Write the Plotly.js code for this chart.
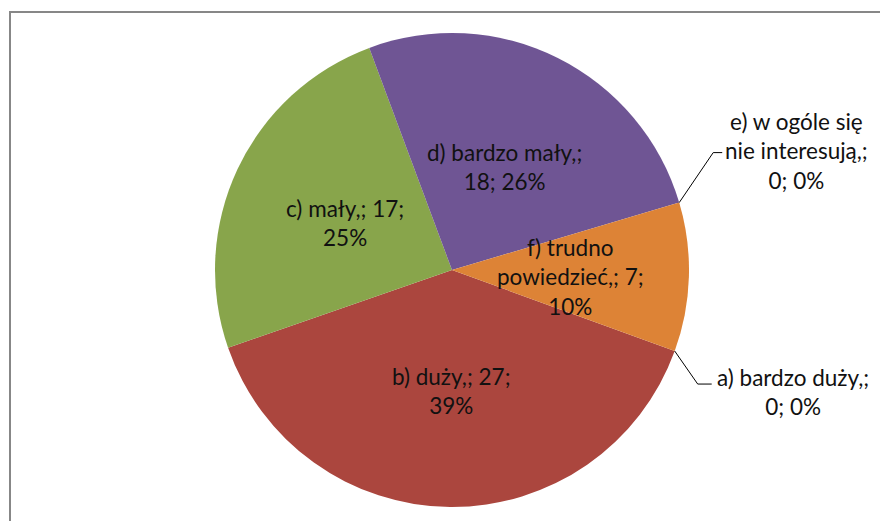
<!DOCTYPE html>
<html>
<head>
<meta charset="utf-8">
<script src="https://cdn.plot.ly/plotly-3.0.1.min.js"></script>
<style>html,body{margin:0;padding:0;background:#fff;}#chart{width:880px;height:521px;}</style>
</head>
<body>
<div id="chart"></div>
<script>
// ---- data ----
const categories = ['a) bardzo duży,', 'b) duży,', 'c) mały,', 'd) bardzo mały,', 'e) w ogóle się nie interesują,', 'f) trudno powiedzieć,'];
const values = [0, 27, 17, 18, 0, 7];
// label text as wrapped in the original chart
const labelTexts = [
  'a) bardzo duży,;<br>0; 0%',
  'b) duży,; 27;<br>39%',
  'c) mały,; 17;<br>25%',
  'd) bardzo mały,;<br>18; 26%',
  'e) w ogóle się<br>nie interesują,;<br>0; 0%',
  'f) trudno<br>powiedzieć,; 7;<br>10%'
];
const colors = ['#4F81BD', '#AB463E', '#88A54B', '#6F5594', '#4BACC6', '#DD8336'];

// ---- layout geometry ----
const W = 880, H = 521;
const CX = 452, CY = 270, R = 237;
const ROT = 110;
const total = values.reduce((a, b) => a + b, 0);

function toPaper(px, py) { return [px / W, 1 - py / H]; }
function pointAt(angDeg, r) {
  const a = angDeg * Math.PI / 180;
  return [CX + r * Math.sin(a), CY - r * Math.cos(a)];
}

const annotations = [];
const shapes = [];
const font = {family: 'Lato, "Open Sans", sans-serif', size: 22.5, color: '#111'};

let cum = 0;
values.forEach((v, i) => {
  const a0 = ROT + cum / total * 360;
  const a1 = ROT + (cum + v) / total * 360;
  cum += v;
  if (v > 0) {
    const [px, py] = pointAt((a0 + a1) / 2, R * 0.5);
    const [x, y] = toPaper(px, py + 3);
    annotations.push({x, y, xref: 'paper', yref: 'paper', text: labelTexts[i], showarrow: false, font, align: 'center', xanchor: 'center', yanchor: 'middle'});
  }
});

// zero slices: leader lines from slice edge
function zeroLabel(idx, elbowDx, elbowDy, tail, textDx, textDy) {
  let c = 0;
  for (let k = 0; k < idx; k++) c += values[k];
  const ang = ROT + c / total * 360;
  const [sx, sy] = pointAt(ang, R);
  const ex = sx + elbowDx, ey = sy + elbowDy;
  const tx = ex + tail;
  const p = [toPaper(sx, sy), toPaper(ex, ey), toPaper(tx, ey)];
  shapes.push({type: 'path', xref: 'paper', yref: 'paper',
    path: `M${p[0][0]},${p[0][1]} L${p[1][0]},${p[1][1]} L${p[2][0]},${p[2][1]}`,
    line: {color: '#000', width: 1}});
  const [ax, ay] = toPaper(tx + textDx, ey + textDy);
  annotations.push({x: ax, y: ay, xref: 'paper', yref: 'paper', text: labelTexts[idx], showarrow: false, font, align: 'center', xanchor: 'center', yanchor: 'middle'});
}
zeroLabel(4, 34, -50, 9, 74, -2);
zeroLabel(0, 23, 33, 14, 81, 8);

// chart border
shapes.push({type: 'rect', xref: 'paper', yref: 'paper', x0: 10 / W, x1: 1 + 20 / W, y0: -20 / H, y1: 1 - 12 / H,
  line: {color: '#878787', width: 2}, fillcolor: 'rgba(0,0,0,0)', layer: 'below'});

const trace = {
  type: 'pie',
  labels: categories,
  values: values,
  sort: false,
  direction: 'clockwise',
  rotation: ROT,
  textinfo: 'none',
  hoverinfo: 'label+value+percent',
  marker: {colors: colors, line: {width: 0}},
  domain: {x: [(CX - R) / W, (CX + R) / W], y: [1 - (CY + R) / H, 1 - (CY - R) / H]},
  showlegend: false
};

Plotly.newPlot('chart', [trace], {
  width: W, height: H,
  margin: {l: 0, r: 0, t: 0, b: 0},
  paper_bgcolor: '#fff',
  showlegend: false,
  annotations, shapes
}, {displayModeBar: false, staticPlot: true});
</script>
</body>
</html>
